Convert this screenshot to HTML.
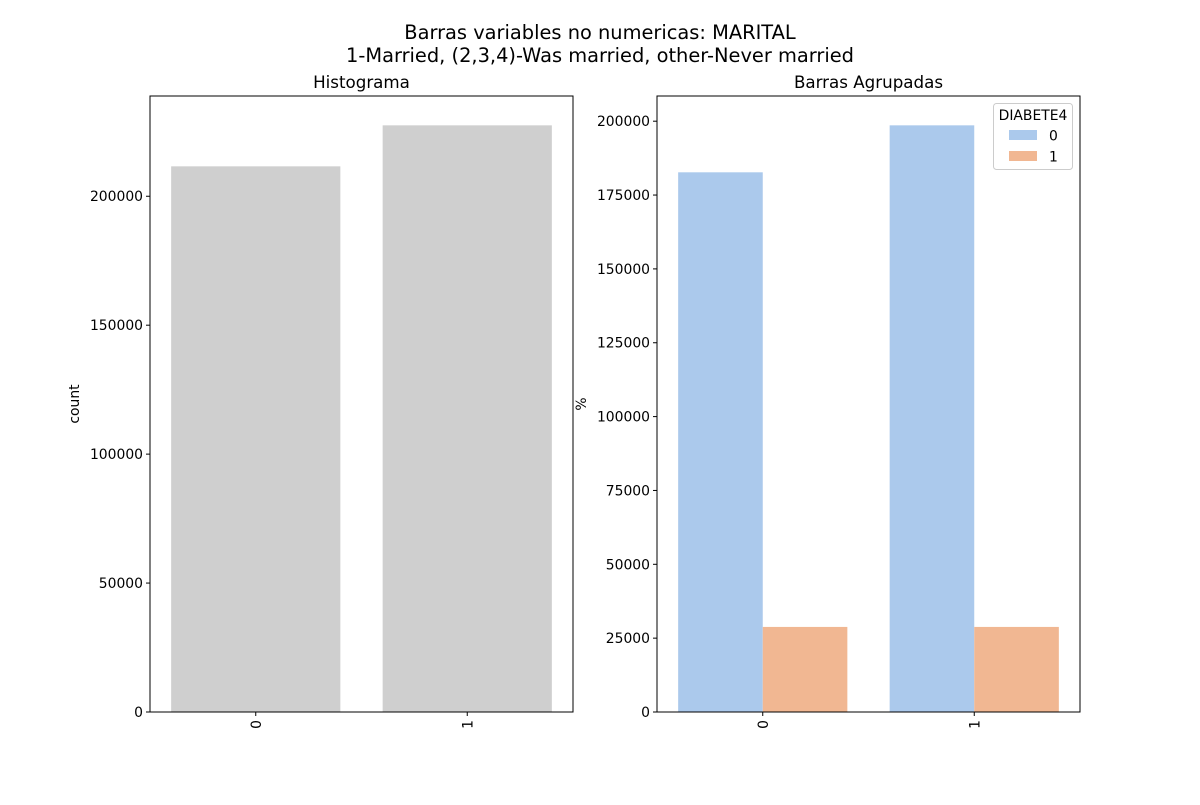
<!DOCTYPE html>
<html><head><meta charset="utf-8"><style>
html,body{margin:0;padding:0;background:#fff;}
text{font-family:"DejaVu Sans","Liberation Sans",sans-serif;}
</style></head><body>
<svg id="chart" width="1200" height="800" xmlns="http://www.w3.org/2000/svg">
<text x="600" y="39" font-size="19.4" text-anchor="middle">Barras variables no numericas: MARITAL</text>
<text x="600" y="62" font-size="19.4" text-anchor="middle">1-Married, (2,3,4)-Was married, other-Never married</text>
<g id="left"></g>
<g id="right"></g>
</svg>
<script>
const categories = ["0","1"];
const countValues = [211600, 227500];
const hueLabels = ["0","1"];
const series0 = [182700, 198600];
const series1 = [28800, 28800];
const leftTicks = [0,50000,100000,150000,200000];
const rightTicks = [0,25000,50000,75000,100000,125000,150000,175000,200000];
const hueColors = ["#abc9ec","#f1b792"];
const NS="http://www.w3.org/2000/svg";
function mk(parent,tag,attrs,txt){const e=document.createElementNS(NS,tag);for(const k in attrs)e.setAttribute(k,attrs[k]);if(txt!==undefined)e.textContent=txt;parent.appendChild(e);return e;}
function axes(g,x0,x1,y0,y1,ymax,ticks,title,ylabel){
  const ys=v=>y1-(v/ymax)*(y1-y0);
  const xs=c=>x0+(c+0.5)/2*(x1-x0);
  return {ys,xs,finish(){
    const fr=mk(g,'rect',{x:x0,y:y0,width:x1-x0,height:y1-y0,fill:'none',stroke:'#000','stroke-width':1});
    
    ticks.forEach(t=>{const y=ys(t);
      const l=mk(g,'line',{x1:x0-4,x2:x0,y1:y,y2:y,stroke:'#000'});
      
      const tx=mk(g,'text',{x:x0-7,y:y+5,'font-size':13.9,'text-anchor':'end'},String(t));
      });
    categories.forEach((c,i)=>{const x=xs(i);
      const l=mk(g,'line',{x1:x,x2:x,y1:y1,y2:y1+4,stroke:'#000'});
      
      const tx=mk(g,'text',{x:x+5,y:y1+8,'font-size':13.9,'text-anchor':'end',transform:`rotate(-90 ${x+5} ${y1+8})`},c);
      });
    const tt=mk(g,'text',{x:(x0+x1)/2,y:y0-8,'font-size':16.7,'text-anchor':'middle'},title);
    
    const yl=mk(g,'text',{x:0,y:0,'font-size':13.9,'text-anchor':'middle',transform:`translate(${ylabel[1]} ${(y0+y1)/2}) rotate(-90)`},ylabel[0]);
    
  }};
}
const L=document.getElementById('left');
const a=axes(L,150,573,96,712,Math.max(...countValues)*1.05,leftTicks,'Histograma',['count',79]);
countValues.forEach((v,i)=>{const w=0.8/2*(573-150);
  const r=mk(L,'rect',{x:a.xs(i)-w/2,y:a.ys(v),width:w,height:712-a.ys(v),fill:'#cfcfcf'});
  });
a.finish();
const R=document.getElementById('right');
const b=axes(R,657,1080,96,712,Math.max(...series0,...series1)*1.05,rightTicks,'Barras Agrupadas',['%',586]);
[series0,series1].forEach((s,h)=>{s.forEach((v,i)=>{const w=0.4/2*(1080-657);
  const r=mk(R,'rect',{x:b.xs(i)-w+h*w,y:b.ys(v),width:w,height:712-b.ys(v),fill:hueColors[h]});
  });});
b.finish();
const lg=mk(R,'g',{});

mk(lg,'rect',{x:993.5,y:103.5,width:79,height:66,rx:3,fill:'#fff','fill-opacity':0.8,stroke:'#ccc'});
const lt=mk(lg,'text',{x:1033,y:120,'font-size':13.9,'text-anchor':'middle'},'DIABETE4');

hueLabels.forEach((h,i)=>{const y=130+i*21;
  const sw=mk(lg,'rect',{x:1009,y:y,width:28,height:10,fill:hueColors[i]});
  
  const t=mk(lg,'text',{x:1049,y:y+10.5,'font-size':13.9},h);
  });
</script>
</body></html>
